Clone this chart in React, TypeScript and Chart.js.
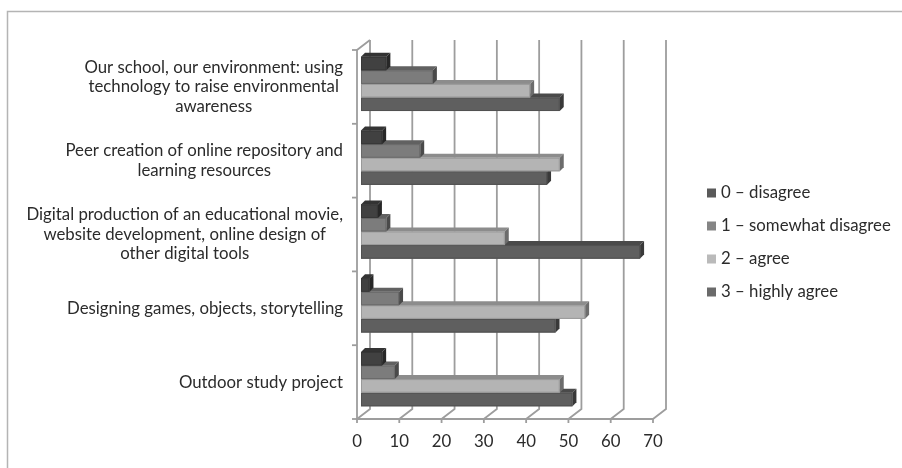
import { useEffect, useRef } from "react";
import { Chart, registerables } from "chart.js";

Chart.register(...registerables);

const categories: string[][] = [
  ["Our school, our environment: using", "technology to raise environmental", "awareness"],
  ["Peer creation of online repository and", "learning resources"],
  ["Digital production of an educational movie,", "website development, online design of", "other digital tools"],
  ["Designing games, objects, storytelling"],
  ["Outdoor study project"],
];
const seriesNames = ["0 – disagree", "1 – somewhat disagree", "2 – agree", "3 – highly agree"];
const disagree = [6, 5, 4, 2, 5];
const somewhatDisagree = [17, 14, 6, 9, 8];
const agree = [40, 47, 34, 53, 47];
const highlyAgree = [47, 44, 66, 46, 50];
const xTicks = [0, 10, 20, 30, 40, 50, 60, 70];

const barColors = ["#414141", "#7c7c7c", "#b4b4b4", "#5f5f5f"];
const legendColors = ["#5a5a5a", "#858585", "#bababa", "#6a6a6a"];
const FONT = "Lato, 'Open Sans', sans-serif";
const TEXT = "#2b2b2b";
const GRID = "#9d9d9d";

function shade(hex: string, f: number) {
  const n = parseInt(hex.slice(1), 16);
  const r = Math.round(((n >> 16) & 255) * f);
  const g = Math.round(((n >> 8) & 255) * f);
  const b = Math.round((n & 255) * f);
  return `rgb(${r},${g},${b})`;
}

const FRONT = { dx: -4, dy: 3 };
const BACK = { dx: 9, dy: -7 };
const BAR3D = { dx: 4, dy: -4 };

const threeD = {
  id: "threeD",
  beforeDraw(chart: any) {
    const ctx = chart.ctx;
    ctx.save();
    ctx.strokeStyle = "#b4b4b4";
    ctx.lineWidth = 1.5;
    ctx.beginPath();
    ctx.moveTo(7.5, 468);
    ctx.lineTo(7.5, 11.5);
    ctx.lineTo(902, 11.5);
    ctx.stroke();
    ctx.restore();
  },
  beforeDatasetsDraw(chart: any) {
    const ctx = chart.ctx;
    const xs = chart.scales.x;
    const a = chart.chartArea;
    ctx.save();
    ctx.strokeStyle = GRID;
    ctx.lineWidth = 1.8;
    for (const v of xTicks) {
      const x = xs.getPixelForValue(v);
      ctx.beginPath();
      ctx.moveTo(x + BACK.dx, a.top + BACK.dy);
      ctx.lineTo(x + BACK.dx, a.bottom + BACK.dy);
      ctx.lineTo(x + FRONT.dx, a.bottom + FRONT.dy);
      ctx.lineTo(x + FRONT.dx, a.bottom + FRONT.dy + 4);
      ctx.stroke();
    }
    const x0 = xs.getPixelForValue(0);
    ctx.beginPath();
    ctx.moveTo(x0 + BACK.dx, a.top + BACK.dy);
    ctx.lineTo(x0 + FRONT.dx, a.top + FRONT.dy);
    ctx.lineTo(x0 + FRONT.dx, a.bottom + FRONT.dy);
    ctx.lineTo(xs.getPixelForValue(70) + FRONT.dx, a.bottom + FRONT.dy);
    ctx.stroke();
    const band = (a.bottom - a.top) / categories.length;
    for (let i = 0; i <= categories.length; i++) {
      const y = a.top + i * band + FRONT.dy;
      ctx.beginPath();
      ctx.moveTo(x0 + FRONT.dx - 5, y);
      ctx.lineTo(x0 + FRONT.dx, y);
      ctx.stroke();
    }
    ctx.restore();
  },
  afterDatasetsDraw(chart: any) {
    const ctx = chart.ctx;
    const n = chart.data.datasets.length;
    ctx.save();
    for (let j = 0; j < categories.length; j++) {
      for (let i = n - 1; i >= 0; i--) {
        const el: any = chart.getDatasetMeta(i).data[j];
        const col = barColors[i];
        const left = el.base;
        const right = el.x;
        const top = el.y - el.height / 2;
        const bot = el.y + el.height / 2;
        ctx.fillStyle = shade(col, 0.78);
        ctx.beginPath();
        ctx.moveTo(left, top);
        ctx.lineTo(right, top);
        ctx.lineTo(right + BAR3D.dx, top + BAR3D.dy);
        ctx.lineTo(left + BAR3D.dx, top + BAR3D.dy);
        ctx.closePath();
        ctx.fill();
        ctx.fillStyle = shade(col, 0.6);
        ctx.beginPath();
        ctx.moveTo(right, top);
        ctx.lineTo(right + BAR3D.dx, top + BAR3D.dy);
        ctx.lineTo(right + BAR3D.dx, bot + BAR3D.dy);
        ctx.lineTo(right, bot);
        ctx.closePath();
        ctx.fill();
        ctx.fillStyle = col;
        ctx.fillRect(left, top, right - left, bot - top);
        ctx.strokeStyle = shade(col, 0.85);
        ctx.lineWidth = 1;
        ctx.strokeRect(left + 0.5, top + 0.5, right - left - 1, bot - top - 1);
      }
    }
    ctx.restore();
  },
  afterDraw(chart: any) {
    const ctx = chart.ctx;
    const xs = chart.scales.x;
    const ys = chart.scales.y;
    const a = chart.chartArea;
    ctx.save();
    ctx.font = `100px ${FONT}`;
    const refW = ctx.measureText(categories[0][0]).width;
    const size = Math.round((100 * 259) / refW * 10) / 10;
    ctx.fillStyle = TEXT;
    ctx.font = `${size}px ${FONT}`;
    ctx.textBaseline = "middle";
    const lh = 19.5;
    const rightEdge = 343;
    categories.forEach((lines, j) => {
      const cy = ys.getPixelForValue(j) + FRONT.dy;
      const w = Math.max(...lines.map((l) => ctx.measureText(l).width));
      const cx = rightEdge - w / 2;
      ctx.textAlign = "center";
      lines.forEach((l, k) => {
        ctx.fillText(l, cx, cy + (k - (lines.length - 1) / 2) * lh);
      });
    });
    ctx.textAlign = "center";
    for (const v of xTicks) {
      ctx.fillText(String(v), xs.getPixelForValue(v) + FRONT.dx, a.bottom + 26);
    }
    ctx.textAlign = "left";
    chart.data.datasets.forEach((ds: any, i: number) => {
      const y = 193 + i * 33;
      ctx.fillStyle = legendColors[i];
      ctx.fillRect(707, y - 4.5, 9, 9);
      ctx.fillStyle = TEXT;
      ctx.fillText(ds.label, 721, y);
    });
    ctx.restore();
  },
};

export default function App() {
  const ref = useRef<HTMLCanvasElement>(null);
  useEffect(() => {
    document.body.style.margin = "0";
    const canvas = ref.current!;
    const series = [disagree, somewhatDisagree, agree, highlyAgree];
    const chart = new Chart(canvas, {
      type: "bar",
      data: {
        labels: categories.map((c) => c.join(" ")),
        datasets: series.map((d, i) => ({
          label: seriesNames[i],
          data: d,
          backgroundColor: barColors[i],
          borderWidth: 0,
          categoryPercentage: 0.735,
          barPercentage: 1,
        })),
      },
      options: {
        indexAxis: "y",
        responsive: false,
        animation: false,
        devicePixelRatio: 1,
        layout: { padding: { left: 361, right: 245, top: 47, bottom: 52 } },
        scales: {
          x: { display: false, min: 0, max: 70 },
          y: { display: false },
        },
        plugins: { legend: { display: false }, tooltip: { enabled: false } },
      },
      plugins: [threeD],
    });
    return () => chart.destroy();
  }, []);
  return (
    <div style={{ width: 902, height: 468, background: "#fff" }}>
      <canvas ref={ref} width={902} height={468} style={{ display: "block" }} />
    </div>
  );
}
